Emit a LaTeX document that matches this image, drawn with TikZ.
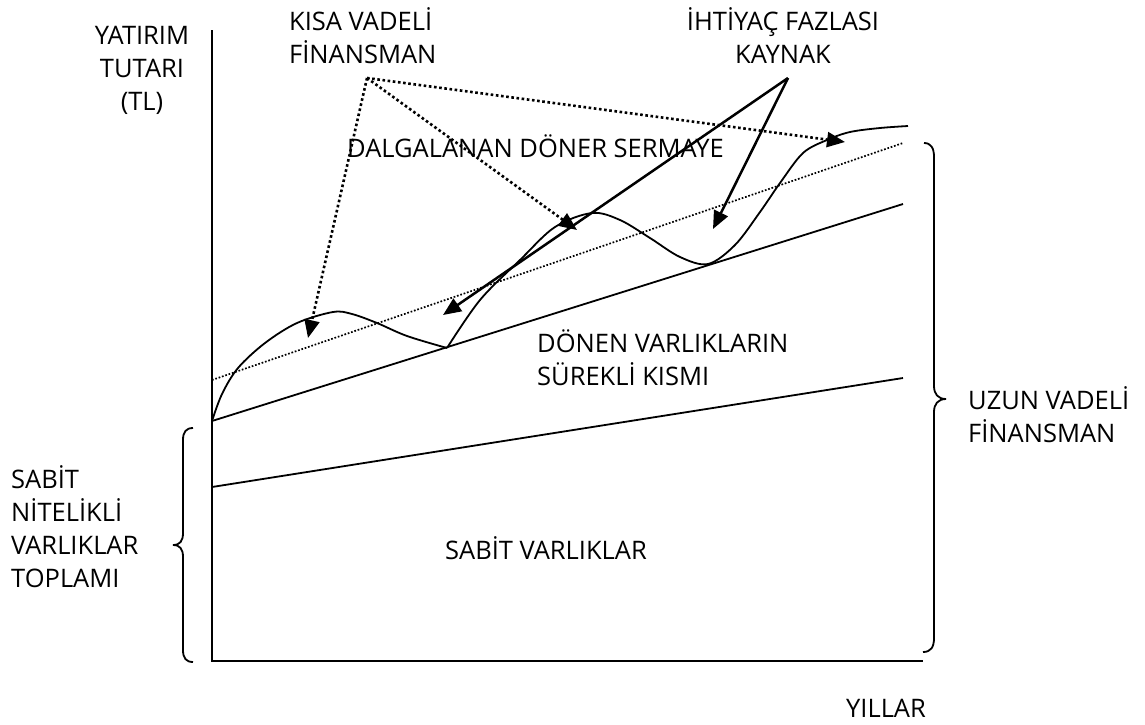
\documentclass[tikz,border=0pt]{standalone}
\usepackage{fontspec}
\setmainfont{Open Sans}
\usetikzlibrary{arrows.meta}
\begin{document}
\begin{tikzpicture}[x=1pt,y=-1pt,
  lbl/.style={font=\fontsize{25.5}{33}\selectfont, inner sep=0pt},
  axis/.style={line width=2.2pt},
  curve/.style={line width=1.8pt, line join=round},
  dotarrow/.style={line width=2.6pt, dash pattern=on 2.6pt off 2.6pt, -{Triangle[length=18pt,width=15pt]}},
  solidarrow/.style={line width=2.5pt, -{Triangle[length=18pt,width=15pt]}},
  trend/.style={line width=1.7pt, dash pattern=on 1.7pt off 1.8pt},
  brace/.style={line width=1.8pt}]
\useasboundingbox (0,0) rectangle (1145,724);

% axes
\coordinate (ytop) at (212,30);
\coordinate (O) at (212,661);
\coordinate (xend) at (923,661);
\draw[axis] (ytop) -- (O) -- (xend);

% straight lines
\coordinate (fa0) at (212,487); \coordinate (fa1) at (903,378);
\coordinate (pa0) at (212,421); \coordinate (pa1) at (903,204);
\coordinate (tr0) at (212,380); \coordinate (tr1) at (903,143);
\draw[curve] (fa0) -- (fa1);
\draw[curve] (pa0) -- (pa1);
\draw[trend] (tr0) -- (tr1);

% fluctuating curve
\draw[curve] plot[smooth, tension=0.55] coordinates {(212,421) (222,394) (238,368) (265,343) (297,323) (333,312) (352,314) (377,323) (407,336) (447,348)};
\draw[curve] plot[smooth, tension=0.55] coordinates {(447,348) (480,300) (520,260) (555,227) (592,213) (620,220) (650,238) (680,257) (708,264) (735,245) (760,212) (780,183) (803,153) (827,140) (850,132) (880,128) (908,126)};

% braces
\draw[brace] (193,428) .. controls (186,428) and (183,432) .. (183,440) -- (183,533) .. controls (183,541) and (180,545) .. (173,545) .. controls (180,545) and (183,549) .. (183,557) -- (183,650) .. controls (183,658) and (186,662) .. (193,662);
\draw[brace] (924,143) .. controls (931,143) and (934,148) .. (934,157) -- (934,386) .. controls (934,394) and (938,399) .. (946,399) .. controls (938,399) and (934,404) .. (934,412) -- (934,638) .. controls (934,647) and (931,652) .. (923,652);

% labels
\node[lbl, align=center] (yat) at (142,70) {YATIRIM\\TUTARI\\(TL)};
\node[lbl, align=left, anchor=west] (kisa) at (289,36) {KISA VADELİ\\FİNANSMAN};
\node[lbl, align=center] (iht) at (783,36) {İHTİYAÇ FAZLASI\\KAYNAK};
\node[lbl, anchor=west] (dal) at (347,146) {DALGALANAN DÖNER SERMAYE};
\node[lbl, align=left, anchor=west] (don) at (537,358) {DÖNEN VARLIKLARIN\\SÜREKLİ KISMI};
\node[lbl, align=left, anchor=west] (uzun) at (968,415) {UZUN VADELİ\\FİNANSMAN};
\node[lbl, align=left, anchor=west] (sab) at (11,527) {SABİT\\NİTELİKLİ\\VARLIKLAR\\TOPLAMI};
\node[lbl] (sv) at (546,548) {SABİT VARLIKLAR};
\node[lbl] (yil) at (886,708) {YILLAR};

% arrows
\coordinate (kf) at (367,78);
\coordinate (k1) at (308,338);
\coordinate (k2) at (577,230);
\coordinate (k3) at (845,142);
\draw[dotarrow] (kf) -- (k1);
\draw[dotarrow] (kf) -- (k2);
\draw[dotarrow] (kf) -- (k3);
\coordinate (ik) at (788,78);
\coordinate (i1) at (443,315);
\coordinate (i2) at (713,229);
\draw[solidarrow] (ik) -- (i1);
\draw[solidarrow] (ik) -- (i2);
\end{tikzpicture}
\end{document}
